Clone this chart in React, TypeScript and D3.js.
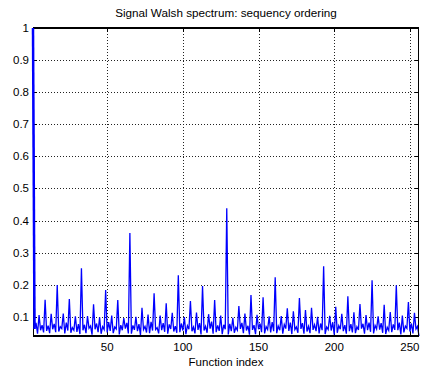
import React from 'react';
import * as d3 from 'd3';

const title = 'Signal Walsh spectrum: sequency ordering';
const xLabel = 'Function index';

// Walsh coefficient magnitudes, index 1..256 (sequency order)
const spectrum = [
  1.000, 0.062, 0.081, 0.047, 0.105, 0.058, 0.074, 0.051, 0.153, 0.056, 0.072, 0.049, 0.109, 0.061, 0.078, 0.052,
  0.199, 0.054, 0.069, 0.063, 0.110, 0.048, 0.082, 0.057, 0.155, 0.050, 0.066, 0.058, 0.101, 0.053, 0.077, 0.046,
  0.251, 0.058, 0.075, 0.049, 0.102, 0.064, 0.071, 0.044, 0.139, 0.061, 0.079, 0.052, 0.098, 0.047, 0.069, 0.060,
  0.183, 0.051, 0.083, 0.056, 0.104, 0.049, 0.068, 0.062, 0.152, 0.045, 0.074, 0.058, 0.096, 0.063, 0.081, 0.048,
  0.361, 0.047, 0.073, 0.059, 0.100, 0.055, 0.077, 0.043, 0.128, 0.060, 0.070, 0.051, 0.107, 0.049, 0.084, 0.057,
  0.173, 0.060, 0.066, 0.048, 0.104, 0.058, 0.080, 0.053, 0.142, 0.047, 0.076, 0.062, 0.112, 0.054, 0.071, 0.050,
  0.229, 0.052, 0.079, 0.057, 0.099, 0.046, 0.072, 0.061, 0.149, 0.055, 0.068, 0.048, 0.113, 0.059, 0.080, 0.045,
  0.196, 0.057, 0.070, 0.050, 0.108, 0.063, 0.085, 0.047, 0.152, 0.052, 0.073, 0.056, 0.104, 0.046, 0.075, 0.061,
  0.438, 0.045, 0.078, 0.055, 0.097, 0.050, 0.067, 0.058, 0.133, 0.062, 0.081, 0.049, 0.110, 0.057, 0.072, 0.044,
  0.168, 0.059, 0.074, 0.046, 0.106, 0.061, 0.079, 0.052, 0.161, 0.048, 0.069, 0.060, 0.101, 0.051, 0.083, 0.055,
  0.223, 0.049, 0.071, 0.058, 0.102, 0.047, 0.076, 0.063, 0.126, 0.056, 0.082, 0.046, 0.117, 0.060, 0.068, 0.050,
  0.158, 0.062, 0.080, 0.047, 0.121, 0.054, 0.070, 0.049, 0.128, 0.059, 0.075, 0.055, 0.100, 0.048, 0.079, 0.058,
  0.257, 0.046, 0.068, 0.060, 0.103, 0.057, 0.083, 0.044, 0.131, 0.050, 0.072, 0.061, 0.109, 0.055, 0.074, 0.047,
  0.164, 0.055, 0.077, 0.051, 0.114, 0.049, 0.069, 0.059, 0.140, 0.063, 0.078, 0.047, 0.105, 0.058, 0.082, 0.053,
  0.214, 0.048, 0.073, 0.062, 0.101, 0.060, 0.080, 0.050, 0.137, 0.046, 0.067, 0.057, 0.115, 0.052, 0.076, 0.059,
  0.198, 0.058, 0.082, 0.045, 0.104, 0.051, 0.071, 0.064, 0.146, 0.054, 0.079, 0.048, 0.112, 0.062, 0.070, 0.040,
];

const xTicks = [50, 100, 150, 200, 250];
const yTicks = [0.1, 0.2, 0.3, 0.4, 0.5, 0.6, 0.7, 0.8, 0.9, 1];

const width = 421;
const height = 374;
const margin = { top: 28, right: 2, bottom: 38, left: 33 };
const font = '"Liberation Sans", Arial, Helvetica, sans-serif';

export default function App() {
  const x = d3.scaleLinear()
    .domain([1, spectrum.length])
    .range([margin.left, width - margin.right]);
  const y = d3.scaleLinear()
    .domain([d3.min(spectrum) as number, d3.max(spectrum) as number])
    .range([height - margin.bottom, margin.top]);

  const line = d3.line<number>()
    .x((_, i) => x(i + 1))
    .y(d => y(d));

  const x0 = margin.left, x1 = width - margin.right;
  const y0 = height - margin.bottom, y1 = margin.top;

  return (
    <svg width={width} height={height}
      style={{ position: 'absolute', left: 0, top: 0, background: '#fff', fontFamily: font }}>
      {/* grid */}
      <g stroke="#222" strokeWidth={1} strokeDasharray="1 2" shapeRendering="crispEdges">
        {xTicks.map(t => (
          <line key={'gx' + t} x1={Math.round(x(t)) + 0.5} x2={Math.round(x(t)) + 0.5} y1={y1} y2={y0} />
        ))}
        {yTicks.map(t => (
          <line key={'gy' + t} x1={x0} x2={x1} y1={Math.round(y(t)) + 0.5} y2={Math.round(y(t)) + 0.5} />
        ))}
      </g>
      {/* tick marks */}
      <g stroke="#000" strokeWidth={1} shapeRendering="crispEdges">
        {xTicks.map(t => (
          <g key={'tx' + t}>
            <line x1={Math.round(x(t)) + 0.5} x2={Math.round(x(t)) + 0.5} y1={y0} y2={y0 - 4} />
            <line x1={Math.round(x(t)) + 0.5} x2={Math.round(x(t)) + 0.5} y1={y1} y2={y1 + 4} />
          </g>
        ))}
        {yTicks.map(t => (
          <g key={'ty' + t}>
            <line x1={x0} x2={x0 + 4} y1={Math.round(y(t)) + 0.5} y2={Math.round(y(t)) + 0.5} />
            <line x1={x1} x2={x1 - 4} y1={Math.round(y(t)) + 0.5} y2={Math.round(y(t)) + 0.5} />
          </g>
        ))}
      </g>
      {/* data */}
      <path d={line(spectrum) || ''} fill="none" stroke="#0000ff" strokeWidth={1.3} />
      {/* axes box */}
      <g stroke="#000" shapeRendering="crispEdges">
        <line x1={x0} x2={x1} y1={y1} y2={y1} strokeWidth={2} />
        <line x1={x0} x2={x1} y1={y0} y2={y0} strokeWidth={2} />
        <line x1={x1 - 0.5} x2={x1 - 0.5} y1={y1} y2={y0} strokeWidth={1} />
        <line x1={x0} x2={x0} y1={y1} y2={y0} strokeWidth={1} />
      </g>
      <path d={line(spectrum.slice(0, 2)) || ''} fill="none" stroke="#0000ff" strokeWidth={2.5} />
      {/* tick labels */}
      <g fontSize={11.5} fill="#000">
        {xTicks.map(t => (
          <text key={'lx' + t} x={x(t)} y={y0 + 15} textAnchor="middle">{t}</text>
        ))}
        {yTicks.map(t => (
          <text key={'ly' + t} x={x0 - 4} y={y(t) + 4} textAnchor="end">{d3.format('~g')(t)}</text>
        ))}
      </g>
      <text x={(x0 + x1) / 2} y={17} textAnchor="middle" fontSize={11.7}>{title}</text>
      <text x={(x0 + x1) / 2} y={366} textAnchor="middle" fontSize={11.5}>{xLabel}</text>
    </svg>
  );
}
